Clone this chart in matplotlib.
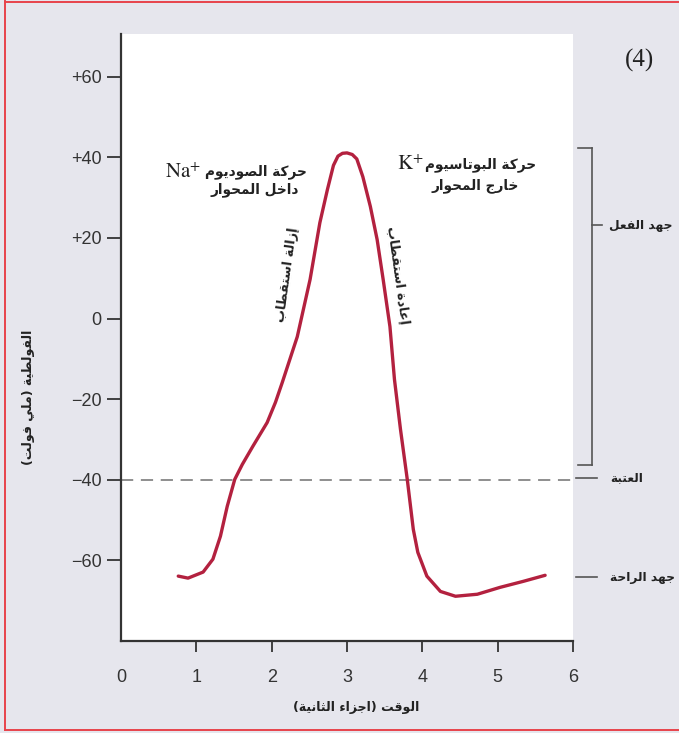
import matplotlib
matplotlib.use("Agg")
import matplotlib.pyplot as plt
from matplotlib.lines import Line2D

# --- data ---
time_ms = [0.76, 0.89, 1.09, 1.22, 1.32, 1.41, 1.51, 1.61, 1.75, 1.94, 2.05, 2.14,
           2.34, 2.51, 2.64, 2.74, 2.82, 2.88, 2.94, 3.00, 3.07, 3.13, 3.21, 3.31, 3.40, 3.48,
           3.57, 3.63, 3.71, 3.80, 3.88, 3.94, 4.06, 4.24, 4.44, 4.73, 5.03, 5.34, 5.63]
voltage_mv = [-63.9, -64.4, -62.9, -59.7, -54.0, -46.6, -39.9, -36.2, -31.7, -25.8, -20.8, -15.9,
              -4.5, 9.7, 23.8, 32.0, 38.0, 40.3, 41.0, 41.1, 40.7, 39.6, 35.2, 27.8, 19.6, 9.7,
              -2.0, -15.1, -27.5, -39.9, -52.3, -58.0, -63.9, -67.7, -68.9, -68.4, -66.7, -65.2, -63.7]
threshold_mv = -40
x_ticks = [0, 1, 2, 3, 4, 5, 6]
y_ticks = [-60, -40, -20, 0, 20, 40, 60]
y_tick_labels = ["\u221260", "\u221240", "\u221220", "0", "+20", "+40", "+60"]

# --- minimal arabic shaping (matplotlib has no bidi / joining) ---
FORMS = {  # isolated, final, initial, medial
    "\u0621": ("\uFE80",), "\u0623": ("\uFE83", "\uFE84"), "\u0625": ("\uFE87", "\uFE88"),
    "\u0627": ("\uFE8D", "\uFE8E"), "\u0628": ("\uFE8F", "\uFE90", "\uFE91", "\uFE92"),
    "\u0629": ("\uFE93", "\uFE94"), "\u062A": ("\uFE95", "\uFE96", "\uFE97", "\uFE98"),
    "\u062B": ("\uFE99", "\uFE9A", "\uFE9B", "\uFE9C"), "\u062C": ("\uFE9D", "\uFE9E", "\uFE9F", "\uFEA0"),
    "\u062D": ("\uFEA1", "\uFEA2", "\uFEA3", "\uFEA4"), "\u062E": ("\uFEA5", "\uFEA6", "\uFEA7", "\uFEA8"),
    "\u062F": ("\uFEA9", "\uFEAA"), "\u0631": ("\uFEAD", "\uFEAE"), "\u0632": ("\uFEAF", "\uFEB0"),
    "\u0633": ("\uFEB1", "\uFEB2", "\uFEB3", "\uFEB4"), "\u0635": ("\uFEB9", "\uFEBA", "\uFEBB", "\uFEBC"),
    "\u0637": ("\uFEC1", "\uFEC2", "\uFEC3", "\uFEC4"), "\u0639": ("\uFEC9", "\uFECA", "\uFECB", "\uFECC"),
    "\u0641": ("\uFED1", "\uFED2", "\uFED3", "\uFED4"), "\u0642": ("\uFED5", "\uFED6", "\uFED7", "\uFED8"),
    "\u0643": ("\uFED9", "\uFEDA", "\uFEDB", "\uFEDC"), "\u0644": ("\uFEDD", "\uFEDE", "\uFEDF", "\uFEE0"),
    "\u0645": ("\uFEE1", "\uFEE2", "\uFEE3", "\uFEE4"), "\u0646": ("\uFEE5", "\uFEE6", "\uFEE7", "\uFEE8"),
    "\u0647": ("\uFEE9", "\uFEEA", "\uFEEB", "\uFEEC"), "\u0648": ("\uFEED", "\uFEEE"),
    "\u064A": ("\uFEF1", "\uFEF2", "\uFEF3", "\uFEF4"),
}


def ar(text):
    out = []
    for i, ch in enumerate(text):
        if ch not in FORMS:
            out.append(ch)
            continue
        prev = text[i - 1] if i > 0 else ""
        nxt = text[i + 1] if i + 1 < len(text) else ""
        join_prev = prev in FORMS and len(FORMS[prev]) == 4 and len(FORMS[ch]) > 1
        join_next = nxt in FORMS and len(FORMS[ch]) == 4 and len(FORMS[nxt]) > 1
        f = FORMS[ch]
        if join_prev and join_next:
            out.append(f[3])
        elif join_prev:
            out.append(f[1])
        elif join_next:
            out.append(f[2])
        else:
            out.append(f[0])
    s = "".join(reversed(out))
    return s.translate(str.maketrans("()", ")("))


plt.rcParams["font.family"] = ["Liberation Sans", "DejaVu Sans"]
plt.rcParams["mathtext.fontset"] = "stix"
AR = {"family": "DejaVu Sans", "weight": "bold"}
INK = "#222222"

W, H = 679, 733
fig = plt.figure(figsize=(W / 100, H / 100), dpi=100, facecolor="#e6e6ed")


def px(x, y):
    return x / W, 1 - y / H


ax = fig.add_axes([121 / W, 1 - 641 / H, (573 - 121) / W, (641 - 34) / H])
ax.set_facecolor("white")
ax.set_xlim(0, 6)
ax.set_ylim(-80, 70.6)

ax.plot(time_ms, voltage_mv, color="#b3213f", lw=2.4, solid_capstyle="round",
        solid_joinstyle="round", zorder=3)
ax.plot([0, 6.0], [threshold_mv, threshold_mv], color="#707070", lw=1.1,
        dashes=(8, 5), clip_on=False)

for s in ["top", "right"]:
    ax.spines[s].set_visible(False)
for s in ["left", "bottom"]:
    ax.spines[s].set_color("#333333")
    ax.spines[s].set_linewidth(1.6)

ax.set_xticks(x_ticks)
ax.set_yticks(y_ticks)
ax.set_yticklabels(y_tick_labels)
ax.tick_params(axis="y", direction="out", length=10, width=1.3, color="#333333",
               labelsize=13, labelcolor="#333333", pad=4)
ax.tick_params(axis="x", direction="out", length=8, width=1.3, color="#333333",
               labelsize=13, labelcolor="#333333", pad=12)
ax.xaxis.get_major_ticks()[0].tick1line.set_visible(False)

# axis titles
fig.text(*px(356, 707), ar("الوقت (اجزاء الثانية)"), ha="center", va="center",
         fontsize=9, color=INK, **AR)
fig.text(*px(29, 397), ar("الفولطية (ملي فولت)"), ha="center", va="center",
         rotation=90, fontsize=9, color=INK, **AR)

# ion movement labels
ax.text(0.58, 36.4, r"$\mathrm{Na}^{+}$", fontsize=15, ha="left", va="center", color=INK)
ax.text(1.115, 36.4, ar("حركة الصوديوم"), fontsize=9.8, ha="left", va="center", color=INK, **AR)
ax.text(1.77, 32.0, ar("داخل المحوار"), fontsize=9.8, ha="center", va="center", color=INK, **AR)
ax.text(3.66, 38.2, r"$\mathrm{K}^{+}$", fontsize=15, ha="left", va="center", color=INK)
ax.text(4.04, 38.2, ar("حركة البوتاسيوم"), fontsize=9.8, ha="left", va="center", color=INK, **AR)
ax.text(4.70, 33.0, ar("خارج المحوار"), fontsize=9.8, ha="center", va="center", color=INK, **AR)

ax.text(2.20, 10.9, ar("إزالة استقطاب"), fontsize=9.3, rotation=82, ha="center", va="center",
        rotation_mode="anchor", color=INK, **AR)
ax.text(3.68, 10.9, ar("إعادة استقطاب"), fontsize=9.3, rotation=-82, ha="center", va="center",
        rotation_mode="anchor", color=INK, **AR)

# right-hand bracket and labels
grey = "#555555"
lines = [
    ([578, 592], [148, 148]), ([592, 592], [148, 465]), ([578, 592], [465, 465]),
    ([592, 602], [225, 225]), ([576, 597], [478, 478]), ([576, 597], [577, 577]),
]
for xs, ys in lines:
    fig.add_artist(Line2D([x / W for x in xs], [1 - y / H for y in ys], color=grey, lw=1.2))
fig.text(*px(609, 225), ar("جهد الفعل"), ha="left", va="center", fontsize=8.8, color=INK, **AR)
fig.text(*px(610, 478), ar("العتبة"), ha="left", va="center", fontsize=8.8, color=INK, **AR)
fig.text(*px(610, 577), ar("جهد الراحة"), ha="left", va="center", fontsize=8.8, color=INK, **AR)

fig.text(*px(639, 60), "(4)", ha="center", va="center", fontsize=18,
         family="Liberation Serif", color=INK)

# red frame around the page (open on the right, as in the scan)
frame = [([5, 5], [1, 730]), ([5, 690], [1.5, 1.5]), ([5, 690], [730, 730])]
for xs, ys in frame:
    fig.add_artist(Line2D([x / W for x in xs], [1 - y / H for y in ys], color="#e8434b", lw=1.4))

fig.savefig("out.png", dpi=100, facecolor=fig.get_facecolor())
